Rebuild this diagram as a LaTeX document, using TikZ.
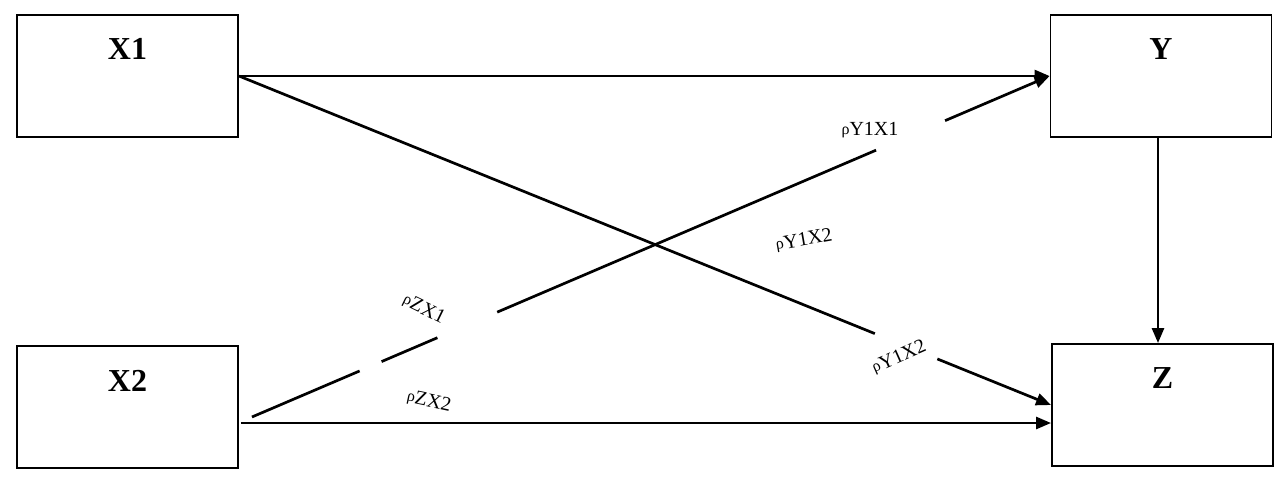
\documentclass[tikz,border=0pt]{standalone}
\usepackage{fontspec}
\setmainfont{Liberation Serif}
\usetikzlibrary{arrows.meta,calc,positioning}
\newcommand{\rhosym}{{\fontsize{16}{16}\selectfont\raisebox{1.5pt}{ρ}}}
\begin{document}
\begin{tikzpicture}[x=1pt,y=-1pt,>={Triangle[length=15pt,width=12pt]},line join=miter]
\useasboundingbox[fill=white] (0,0) rectangle (1283,482);
\tikzset{varbox/.style={draw=black,line width=1.9pt,minimum width=221pt,minimum height=122pt,inner sep=0pt},boxname/.style={font=\fontsize{32}{34}\selectfont\bfseries,inner sep=0pt},conn/.style={draw=black,line width=2.7pt},coef/.style={font=\fontsize{20}{22}\selectfont,inner sep=0pt}}
\node[varbox] (x1) at (127.5,76) {}; \node[boxname] (x1name) at ($(x1.north)+(0,35)$) {X1};
\node[varbox] (y) at (1161,76) {}; \node[boxname] (yname) at ($(y.north)+(0,35)$) {Y};
\node[varbox] (x2) at (127.5,407) {}; \node[boxname] (x2name) at ($(x2.north)+(0,36)$) {X2};
\node[varbox] (z) at (1162.5,405) {}; \node[boxname] (zname) at ($(z.north)+(0,35)$) {Z};
\coordinate (x2y) at ($(x2.east)+(13,10)$); \coordinate (x2z) at ($(x2.east)+(2,16)$); \coordinate (yz) at ($(y.south)+(-3,0)$);
\draw[conn,->] (x1.east) -- (y.west);
\draw[conn,->] (x1.east) -- ($(x1.east)!0.783!(z.west)$) ($(x1.east)!0.86!(z.west)$) -- (z.west);
\draw[conn,->] (x2y) -- ($(x2y)!0.135!(y.west)$) ($(x2y)!0.1625!(y.west)$) -- ($(x2y)!0.2325!(y.west)$) ($(x2y)!0.3075!(y.west)$) -- ($(x2y)!0.7825!(y.west)$) ($(x2y)!0.869!(y.west)$) -- (y.west);
\draw[conn,->] (x2z) -- (z.west |- x2z);
\draw[conn,->] (yz) -- (yz |- z.north);
\node[coef] (rY1X1) at (870,130) {\rhosym Y1X1};
\node[coef,rotate=10] (rY1X2a) at (804,240) {\rhosym Y1X2};
\node[coef,rotate=-26] (rZX1) at (424,309) {\rhosym ZX1};
\node[coef,rotate=24] (rY1X2b) at (899,357) {\rhosym Y1X2};
\node[coef,rotate=-12] (rZX2) at (429,401) {\rhosym ZX2};
\end{tikzpicture}
\end{document}
